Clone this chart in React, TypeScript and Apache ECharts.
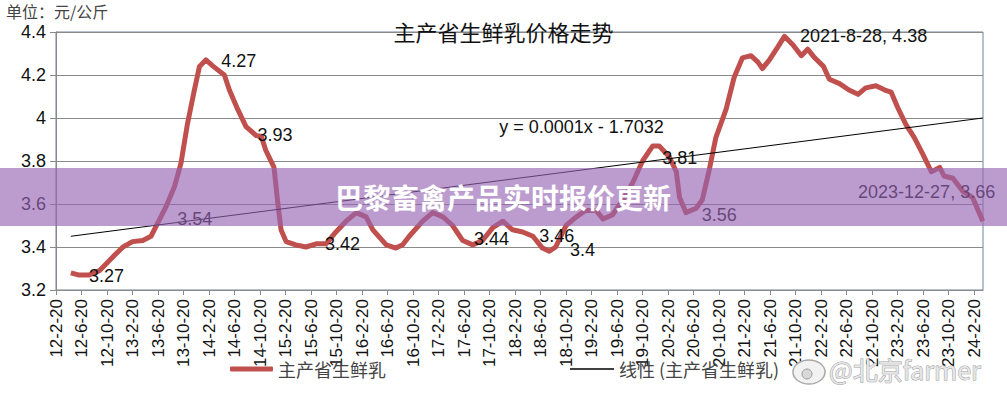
import React, { useEffect, useRef } from "react";
import * as echarts from "echarts";

// ---- data ----
const seriesName = "主产省生鲜乳";
const trendName = "线性 (主产省生鲜乳)";

const dates = [
  "2012-04-30", "2012-06-05", "2012-07-26", "2012-09-14", "2012-10-14", "2012-11-24",
  "2013-01-05", "2013-02-20", "2013-04-08", "2013-05-17", "2013-06-10", "2013-07-29",
  "2013-09-07", "2013-10-08", "2013-11-09", "2013-12-11", "2014-01-05", "2014-02-05",
  "2014-03-10", "2014-05-02", "2014-05-26", "2014-07-05", "2014-08-14", "2014-10-02",
  "2014-10-26", "2014-11-17", "2014-12-26", "2015-01-14", "2015-01-29", "2015-02-23",
  "2015-04-08", "2015-05-26", "2015-07-14", "2015-09-01", "2015-10-17", "2015-12-05",
  "2016-01-23", "2016-03-09", "2016-04-11", "2016-06-14", "2016-07-29", "2016-09-01",
  "2016-10-02", "2016-12-05", "2017-01-23", "2017-03-11", "2017-04-26", "2017-06-14",
  "2017-08-01", "2017-09-17", "2017-11-05", "2017-12-23", "2018-02-08", "2018-03-26",
  "2018-05-14", "2018-06-29", "2018-08-01", "2018-09-01", "2018-10-20", "2018-12-08",
  "2019-01-23", "2019-03-11", "2019-04-14", "2019-05-29", "2019-07-17", "2019-09-04",
  "2019-10-20", "2019-12-08", "2020-01-08", "2020-02-26", "2020-03-29", "2020-04-14",
  "2020-05-14", "2020-07-02", "2020-08-01", "2020-09-04", "2020-10-05", "2020-11-23",
  "2021-01-01", "2021-02-10", "2021-03-20", "2021-04-23", "2021-05-14", "2021-06-17",
  "2021-07-26", "2021-08-28", "2021-10-08", "2021-11-17", "2021-12-17", "2022-01-20",
  "2022-03-01", "2022-03-29", "2022-05-17", "2022-07-01", "2022-08-14", "2022-09-20",
  "2022-11-08", "2022-12-20", "2023-01-20", "2023-02-20", "2023-03-29", "2023-05-08",
  "2023-06-20", "2023-07-29", "2023-09-08", "2023-09-29", "2023-11-10", "2023-12-27",
  "2024-02-13", "2024-03-31",
];

const prices = [
  3.28, 3.27, 3.27, 3.29, 3.32, 3.36,
  3.40, 3.425, 3.43, 3.45, 3.495, 3.59,
  3.68, 3.79, 3.976, 4.13, 4.24, 4.27,
  4.24, 4.20, 4.13, 4.04, 3.96, 3.918,
  3.915, 3.85, 3.77, 3.60, 3.48, 3.425,
  3.41, 3.40, 3.415, 3.415, 3.47, 3.52,
  3.56, 3.54, 3.48, 3.41, 3.395, 3.41,
  3.45, 3.52, 3.56, 3.54, 3.50, 3.43,
  3.41, 3.43, 3.49, 3.52, 3.48, 3.47,
  3.45, 3.395, 3.38, 3.40, 3.50, 3.54,
  3.57, 3.57, 3.53, 3.55, 3.62, 3.70,
  3.80, 3.87, 3.87, 3.82, 3.75, 3.63,
  3.56, 3.58, 3.62, 3.76, 3.91, 4.04,
  4.19, 4.28, 4.29, 4.26, 4.23, 4.27,
  4.33, 4.38, 4.34, 4.29, 4.32, 4.28,
  4.24, 4.18, 4.16, 4.13, 4.11, 4.14,
  4.15, 4.13, 4.12, 4.05, 3.97, 3.91,
  3.83, 3.75, 3.77, 3.73, 3.72, 3.66,
  3.63, 3.52,
];

const trendDates = ["2012-04-30", "2024-03-31"];
const trendValues = [3.45, 4.0];

const xTickLabels = [
  "12-2-20", "12-6-20", "12-10-20", "13-2-20", "13-6-20", "13-10-20",
  "14-2-20", "14-6-20", "14-10-20", "15-2-20", "15-6-20", "15-10-20",
  "16-2-20", "16-6-20", "16-10-20", "17-2-20", "17-6-20", "17-10-20",
  "18-2-20", "18-6-20", "18-10-20", "19-2-20", "19-6-20", "19-10-20",
  "20-2-20", "20-6-20", "20-10-20", "21-2-20", "21-6-20", "21-10-20",
  "22-2-20", "22-6-20", "22-10-20", "23-2-20", "23-6-20", "23-10-20",
  "24-2-20",
];

// annotation texts and their anchor (left-middle of the text)
const annotationTexts = [
  "3.27", "4.27", "3.93", "3.54", "3.42", "3.44", "3.46", "3.4",
  "y = 0.0001x - 1.7032", "3.81", "3.56", "2021-8-28, 4.38", "2023-12-27, 3.66",
];
const annotationDates = [
  "2012-07-25", "2014-04-17", "2014-10-08", "2013-09-20", "2015-08-26", "2017-08-07",
  "2018-06-14", "2018-11-08", "2017-12-05", "2020-01-23", "2020-07-29", "2021-11-11",
  "2022-08-14",
];
const annotationValues = [
  3.265, 4.267, 3.923, 3.528, 3.412, 3.435, 3.453, 3.388, 3.956, 3.814, 3.551, 4.381, 3.658,
];

// months elapsed since the first axis tick (2012-02-20)
function monthsFrom(d: string): number {
  const [y, mo, da] = d.split("-").map(Number);
  return (y - 2012) * 12 + (mo - 2) + (da - 20) / 30.44;
}

const LATIN = "'Liberation Sans', Arial, sans-serif";
const CJK = "'Noto Sans CJK SC', 'Liberation Sans', sans-serif";

export default function App() {
  const ref = useRef<HTMLDivElement>(null);

  useEffect(() => {
    if (!ref.current) return;
    const chart = echarts.init(ref.current, undefined, { renderer: "svg" });

    const gridColor = "#8a8a8a";
    const option: any = {
      animation: false,
      backgroundColor: "#ffffff",
      title: {
        text: "主产省生鲜乳价格走势",
        left: "center",
        top: 20,
        padding: 0,
        textStyle: { fontFamily: CJK, fontSize: 22, fontWeight: "normal", color: "#111" },
      },
      grid: {
        left: 56,
        right: 24,
        top: 32,
        bottom: 104,
        show: true,
        borderColor: "#6f8499",
        borderWidth: 1,
        backgroundColor: "transparent",
      },
      legend: [
        {
          data: [seriesName],
          left: 230,
          top: 360,
          padding: 0,
          itemWidth: 43,
          itemHeight: 5,
          icon: "roundRect",
          textStyle: { fontFamily: CJK, fontSize: 18, color: "#444" },
        },
        {
          data: [trendName],
          left: 570,
          top: 360,
          padding: 0,
          itemWidth: 44,
          itemHeight: 1.5,
          icon: "rect",
          textStyle: { fontFamily: CJK, fontSize: 18, color: "#444" },
        },
      ],
      xAxis: {
        type: "value",
        min: 0,
        max: 145.4,
        interval: 4,
        axisLine: { show: true, lineStyle: { color: gridColor, width: 1 } },
        axisTick: { show: true, length: 5, lineStyle: { color: gridColor } },
        splitLine: { show: false },
        axisLabel: {
          rotate: 90,
          margin: 9,
          fontFamily: LATIN,
          fontSize: 17,
          color: "#111",
          showMaxLabel: false,
          formatter: (v: number) => {
            const i = Math.round(v / 4);
            if (Math.abs(v - i * 4) > 1e-6) return "";
            return xTickLabels[i] ?? "";
          },
        },
      },
      yAxis: {
        type: "value",
        min: 3.2,
        max: 4.4,
        interval: 0.2,
        axisLine: { show: true, lineStyle: { color: gridColor, width: 1 } },
        axisTick: { show: true, length: 6, lineStyle: { color: gridColor } },
        splitLine: { show: true, lineStyle: { color: gridColor, width: 1 } },
        axisLabel: {
          margin: 10,
          fontFamily: LATIN,
          fontSize: 18,
          color: "#111",
          formatter: (v: number) => String(+v.toFixed(1)),
        },
      },
      series: [
        {
          name: seriesName,
          type: "line",
          showSymbol: false,
          color: "#c0504d",
          lineStyle: { color: "#c0504d", width: 5, join: "round" },
          data: dates.map((d, i) => [monthsFrom(d), prices[i]]),
          z: 3,
          markPoint: {
            symbol: "circle",
            symbolSize: 0,
            silent: true,
            label: {
              show: true,
              position: "right",
              distance: 0,
              fontFamily: LATIN,
              fontSize: 18,
              color: "#111",
            },
            data: annotationTexts.map((t, i) => ({
              coord: [monthsFrom(annotationDates[i]), annotationValues[i]],
              value: t,
              label: { formatter: t },
            })),
          },
        },
        {
          name: trendName,
          type: "line",
          showSymbol: false,
          color: "#000000",
          lineStyle: { color: "#000000", width: 1 },
          data: trendDates.map((d, i) => [monthsFrom(d), trendValues[i]]),
          z: 4,
        },
      ],
      graphic: [
        {
          type: "text",
          left: 6,
          top: 3,
          style: { text: "单位：元/公斤", fontFamily: CJK, fontSize: 16, fill: "#444" },
        },
        // watermark
        {
          type: "ellipse",
          shape: { cx: 809, cy: 372, rx: 16, ry: 12 },
          style: { fill: "#f2f2f2", stroke: "#a8a8a8", lineWidth: 1.5 },
          z: 50,
        },
        {
          type: "circle",
          shape: { cx: 807, cy: 374, r: 5 },
          style: { fill: "#d8d8d8", stroke: "#999", lineWidth: 1 },
          z: 51,
        },
        {
          type: "text",
          x: 829,
          y: 356,
          style: {
            text: "@北京farmer",
            fontFamily: CJK,
            fontSize: 25,
            fill: "#e6e6e6",
            stroke: "#9d9d9d",
            lineWidth: 1,
          },
          z: 50,
        },
        // purple banner
        {
          type: "rect",
          shape: { x: 0, y: 168, width: 1007, height: 58 },
          style: { fill: "rgba(150,100,180,0.64)" },
          z: 100,
        },
        {
          type: "text",
          x: 503,
          y: 197,
          style: {
            text: "巴黎畜禽产品实时报价更新",
            fontFamily: CJK,
            fontSize: 28,
            fontWeight: "bold",
            fill: "#ffffff",
            align: "center",
            verticalAlign: "middle",
          },
          z: 101,
        },
      ],
    };

    chart.setOption(option);
    return () => chart.dispose();
  }, []);

  return (
    <div
      ref={ref}
      style={{ position: "fixed", left: 0, top: 0, width: 1007, height: 394, background: "#fff" }}
    />
  );
}
